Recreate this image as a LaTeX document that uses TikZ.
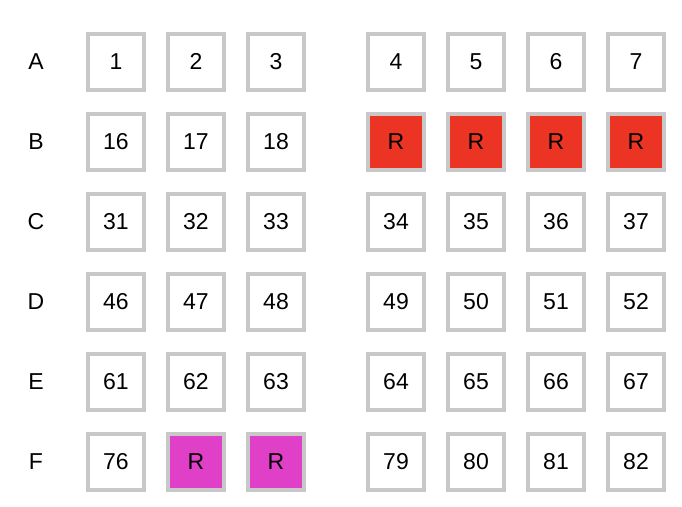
\documentclass[tikz,border=0pt]{standalone}
\usepackage{fontspec}
\setmainfont{Liberation Sans}
\definecolor{boxgray}{RGB}{200,200,200}
\definecolor{rred}{RGB}{236,52,36}
\definecolor{rmag}{RGB}{224,64,200}
\tikzset{
  cell/.style={draw=boxgray, line width=4pt, minimum width=56pt, minimum height=56pt, inner sep=0pt, fill=white, font=\fontsize{23}{23}\selectfont},
  redcell/.style={cell, fill=rred},
  magcell/.style={cell, fill=rmag},
  rowlab/.style={font=\fontsize{23}{23}\selectfont, inner sep=0pt}
}
\begin{document}
\begin{tikzpicture}[x=1pt,y=-1pt]
\useasboundingbox (0,0) rectangle (682,506);
% row labels
\node[rowlab] (lA) at (36,62) {A};
\node[rowlab] (lB) at (36,142) {B};
\node[rowlab] (lC) at (36,222) {C};
\node[rowlab] (lD) at (36,302) {D};
\node[rowlab] (lE) at (36,382) {E};
\node[rowlab] (lF) at (36,462) {F};
% row A
\node[cell] (a1) at (116,61.5) {1};
\node[cell] (a2) at (196,61.5) {2};
\node[cell] (a3) at (276,61.5) {3};
\node[cell] (a4) at (396,61.5) {4};
\node[cell] (a5) at (476,61.5) {5};
\node[cell] (a6) at (556,61.5) {6};
\node[cell] (a7) at (636,61.5) {7};
% row B
\node[cell] (b1) at (116,141.5) {16};
\node[cell] (b2) at (196,141.5) {17};
\node[cell] (b3) at (276,141.5) {18};
\node[redcell] (b4) at (396,141.5) {R};
\node[redcell] (b5) at (476,141.5) {R};
\node[redcell] (b6) at (556,141.5) {R};
\node[redcell] (b7) at (636,141.5) {R};
% row C
\node[cell] (c1) at (116,221.5) {31};
\node[cell] (c2) at (196,221.5) {32};
\node[cell] (c3) at (276,221.5) {33};
\node[cell] (c4) at (396,221.5) {34};
\node[cell] (c5) at (476,221.5) {35};
\node[cell] (c6) at (556,221.5) {36};
\node[cell] (c7) at (636,221.5) {37};
% row D
\node[cell] (d1) at (116,301.5) {46};
\node[cell] (d2) at (196,301.5) {47};
\node[cell] (d3) at (276,301.5) {48};
\node[cell] (d4) at (396,301.5) {49};
\node[cell] (d5) at (476,301.5) {50};
\node[cell] (d6) at (556,301.5) {51};
\node[cell] (d7) at (636,301.5) {52};
% row E
\node[cell] (e1) at (116,381.5) {61};
\node[cell] (e2) at (196,381.5) {62};
\node[cell] (e3) at (276,381.5) {63};
\node[cell] (e4) at (396,381.5) {64};
\node[cell] (e5) at (476,381.5) {65};
\node[cell] (e6) at (556,381.5) {66};
\node[cell] (e7) at (636,381.5) {67};
% row F
\node[cell] (f1) at (116,461.5) {76};
\node[magcell] (f2) at (196,461.5) {R};
\node[magcell] (f3) at (276,461.5) {R};
\node[cell] (f4) at (396,461.5) {79};
\node[cell] (f5) at (476,461.5) {80};
\node[cell] (f6) at (556,461.5) {81};
\node[cell] (f7) at (636,461.5) {82};
\end{tikzpicture}
\end{document}
